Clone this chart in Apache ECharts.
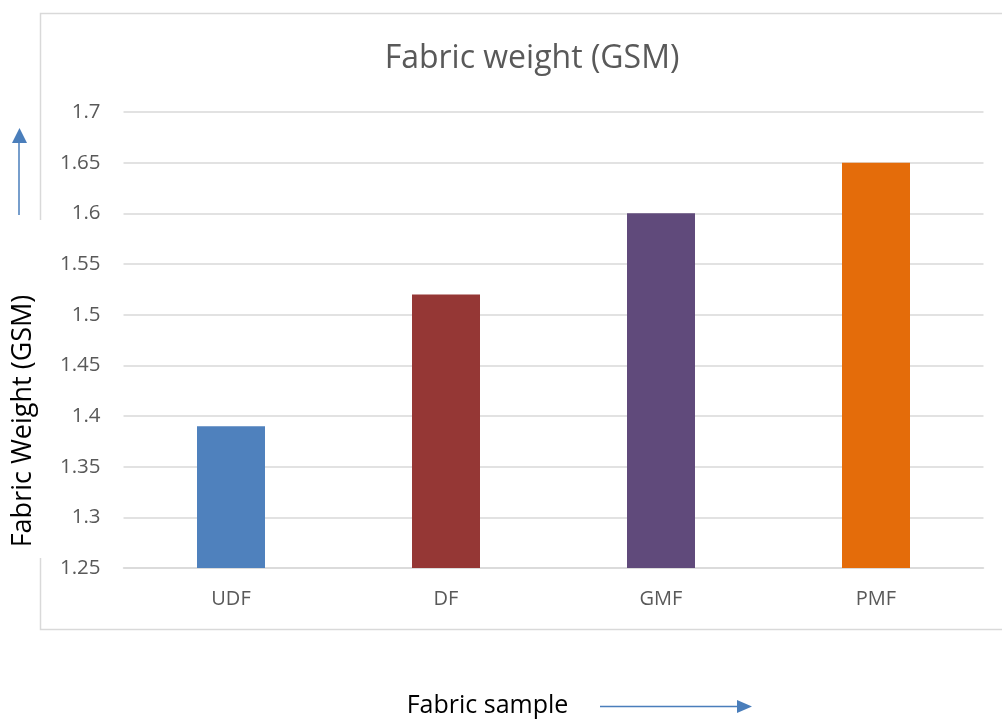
<!DOCTYPE html>
<html>
<head>
<meta charset="utf-8">
<script src="https://cdn.jsdelivr.net/npm/echarts@6/dist/echarts.min.js"></script>
<style>
  html, body { margin: 0; padding: 0; background: #fff; }
  #chart { width: 1002px; height: 722px; }
</style>
</head>
<body>
<div id="chart"></div>
<script>
// Fabric samples and their measured weight (GSM)
const categories = ['UDF', 'DF', 'GMF', 'PMF'];
const weights = [1.39, 1.52, 1.60, 1.65];
const barColors = ['#4f81bd', '#953735', '#604a7b', '#e46c0a'];

const FONT = '"Open Sans", "Liberation Sans", sans-serif';
const chart = echarts.init(document.getElementById('chart'));

const arrowColor = '#4a7ebb';

chart.setOption({
  backgroundColor: '#ffffff',
  animation: false,
  title: {
    text: 'Fabric weight (GSM)',
    left: 527,
    top: 38,
    textAlign: 'center',
    textStyle: { color: '#595959', fontSize: 32, fontWeight: 'normal', fontFamily: FONT }
  },
  grid: { left: 123.5, right: 18.5, top: 112, bottom: 154, containLabel: false },
  xAxis: {
    type: 'category',
    data: categories,
    axisLine: { show: true, lineStyle: { color: '#d9d9d9', width: 1.5 } },
    axisTick: { show: false },
    axisLabel: { color: '#595959', fontSize: 20, fontFamily: FONT, margin: 21 }
  },
  yAxis: {
    type: 'value',
    min: 1.25,
    max: 1.7,
    interval: 0.05,
    axisLine: { show: false },
    axisTick: { show: false },
    splitLine: { lineStyle: { color: '#d9d9d9', width: 1.5 } },
    axisLabel: {
      color: '#595959', fontSize: 20.5, fontFamily: FONT, margin: 23,
      formatter: v => String(parseFloat(v.toFixed(2)))
    }
  },
  series: [{
    type: 'bar',
    data: weights.map((v, i) => ({ value: v, itemStyle: { color: barColors[i] } })),
    barWidth: 68
  }],
  graphic: [
    // chart area frame
    { type: 'polyline', z: -1, shape: { points: [[40.5, 220], [40.5, 13.5], [1002, 13.5]] },
      style: { stroke: '#d9d9d9', lineWidth: 1.5, fill: null } },
    { type: 'polyline', z: -1, shape: { points: [[40.5, 558], [40.5, 629.5], [1002, 629.5]] },
      style: { stroke: '#d9d9d9', lineWidth: 1.5, fill: null } },
    // y-axis name, rotated, with an upward arrow above it
    { type: 'text', x: 23, y: 421, rotation: Math.PI / 2,
      style: { text: 'Fabric Weight (GSM)', fill: '#000000', fontSize: 27, fontFamily: FONT,
               align: 'center', verticalAlign: 'middle', backgroundColor: '#ffffff' } },
    { type: 'line', shape: { x1: 19, y1: 215, x2: 19, y2: 142 },
      style: { stroke: arrowColor, lineWidth: 1.5 } },
    { type: 'polygon', shape: { points: [[12, 143], [27, 143], [19.5, 128]] },
      style: { fill: arrowColor } },
    // x-axis name with a rightward arrow
    { type: 'text', x: 487.5, y: 706,
      style: { text: 'Fabric sample', fill: '#000000', fontSize: 25, fontFamily: FONT,
               align: 'center', verticalAlign: 'middle' } },
    { type: 'line', shape: { x1: 600, y1: 706.5, x2: 738, y2: 706.5 },
      style: { stroke: arrowColor, lineWidth: 1.5 } },
    { type: 'polygon', shape: { points: [[737, 700], [737, 713], [752, 706.5]] },
      style: { fill: arrowColor } }
  ]
});
</script>
</body>
</html>
